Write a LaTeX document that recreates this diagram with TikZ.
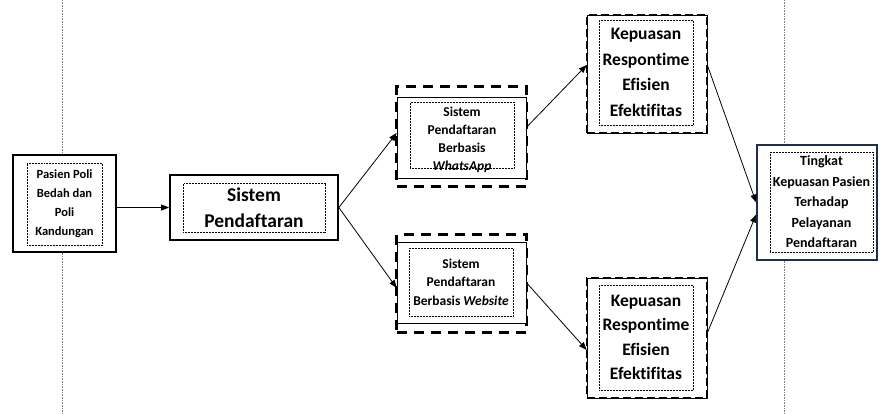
\documentclass[tikz,border=0pt]{standalone}
\usepackage{fontspec}
\setmainfont{Carlito}[Ligatures=CommonOff]
\definecolor{navyline}{RGB}{31,45,78}
\usetikzlibrary{arrows.meta, fit, backgrounds}

\begin{document}
\begin{tikzpicture}[x=1pt, y=-1pt,
  box/.style={draw, fill=white, line width=1.7pt, inner sep=0pt},
  thinbox/.style={draw, fill=white, line width=0.6pt, inner sep=0pt},
  dashbox/.style={thinbox, postaction={draw, line width=2pt, dash pattern=on 8pt off 4pt}},
  dotbox/.style={draw, densely dotted, line width=0.5pt, inner sep=0pt, align=center},
  label/.style={inner sep=0pt, align=center},
  dashframe/.style={draw, line width=2.6pt, dash pattern=on 10pt off 7pt, inner sep=0pt},
  arrow/.style={-{Triangle[length=8pt, width=6pt]}, line width=0.8pt},
  guide/.style={densely dotted, gray, line width=0.6pt}
]
  \useasboundingbox (0,0) rectangle (880,413);

  % Guide lines
  \draw[guide] (62,0) -- (62,413);
  \draw[guide] (784,0) -- (784,413);

  % Patients
  \node[box, minimum width=103, minimum height=97] (pas) at (64.5,203.5) {};
  \node[dotbox, minimum width=75, minimum height=82, font=\fontsize{12.5}{19}\selectfont\bfseries] (pastxt) at (64.5,204) {Pasien Poli\\Bedah dan\\Poli\\Kandungan};

  % Registration system
  \node[box, minimum width=168, minimum height=65] (sis) at (254,207.5) {};
  \node[dotbox, minimum width=142, minimum height=49, font=\fontsize{19.5}{26}\selectfont\bfseries] (sistxt) at (254,208) {Sistem\\Pendaftaran};

  % WhatsApp
  \node[thinbox, minimum width=129, minimum height=81] (wa) at (461.5,137.5) {};
  \node[dotbox, minimum width=104, minimum height=66] (wadot) at (462,135) {};
  \node[label, font=\fontsize{13.5}{18}\selectfont\bfseries] (watxt) at (462,140) {Sistem\\Pendaftaran\\Berbasis\\\textit{WhatsApp}};

  % Website
  \node[thinbox, minimum width=129, minimum height=81] (web) at (461.5,282.5) {};
  \node[dotbox, minimum width=104, minimum height=68, font=\fontsize{13.5}{18.5}\selectfont\bfseries] (webtxt) at (461,282) {Sistem\\Pendaftaran\\Berbasis \textit{Website}};

  \begin{scope}[on background layer]
    \node[dashframe, fit={([yshift=10pt]wa.north west) ([yshift=-8pt]wa.south east)}] (waframe) {};
    \node[dashframe, fit={([yshift=7pt]web.north west) ([yshift=-9pt]web.south east)}] (webframe) {};
  \end{scope}

  % Satisfaction
  \node[dashbox, minimum width=120, minimum height=118] (kpa) at (647,74) {};
  \node[dotbox, minimum width=94, minimum height=105, font=\fontsize{17.5}{25.5}\selectfont\bfseries] (kpatxt) at (646,72.5) {Kepuasan\\Respontime\\Efisien\\Efektifitas};

  \node[dashbox, minimum width=120, minimum height=120] (kpb) at (647,338) {};
  \node[dotbox, minimum width=94, minimum height=105, font=\fontsize{17.5}{24.5}\selectfont\bfseries] (kpbtxt) at (646,337.5) {Kepuasan\\Respontime\\Efisien\\Efektifitas};

  % Result
  \node[box, draw=navyline, minimum width=120, minimum height=115] (tk) at (817,202.5) {};
  \node[dotbox, minimum width=103, minimum height=100, font=\fontsize{14}{20.5}\selectfont\bfseries] (tktxt) at (821.5,202) {Tingkat\\Kepuasan Pasien\\Terhadap\\Pelayanan\\Pendaftaran};

  % Connectors
  \draw[arrow] (sis.west -| pas.east) -- (sis.west);
  \draw[arrow] (sis.east) -- ([yshift=4.5pt]wa.west);
  \draw[arrow] (sis.east) -- ([yshift=-5.5pt]web.west);
  \draw[arrow] ([yshift=10pt]wa.east) -- ([yshift=9pt]kpa.west);
  \draw[arrow] (web.east) -- ([yshift=-12pt]kpb.west);
  \draw[arrow] ([yshift=9pt]kpa.east) -- (tk.west);
  \draw[arrow] ([yshift=5pt]kpb.east) -- ([yshift=-12pt]tk.west);
\end{tikzpicture}
\end{document}
